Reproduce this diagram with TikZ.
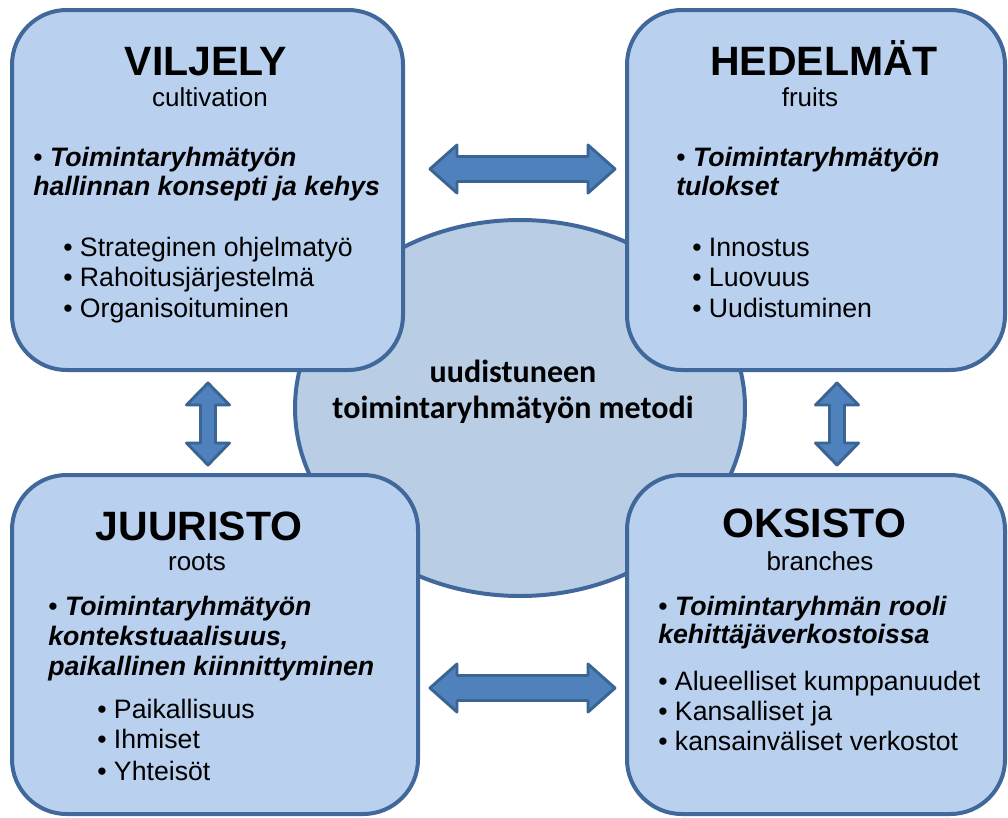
\documentclass[tikz,border=0pt]{standalone}
\usepackage{fontspec}
\setmainfont{Liberation Sans}
\newfontfamily\calfont{Carlito}
\usetikzlibrary{shapes.geometric,fit}
\definecolor{boxfill}{HTML}{B9D0EE}
\definecolor{ellfill}{HTML}{B9CDE5}
\definecolor{edgecol}{HTML}{41689B}
\definecolor{arrfill}{HTML}{4F81BD}
\definecolor{arrdraw}{HTML}{3A6494}
\begin{document}
\begin{tikzpicture}[x=0.75pt,y=-0.75pt,
  box/.style={draw=edgecol, fill=boxfill, line width=3pt, rounded corners=41pt, inner sep=0pt},
  ell/.style={draw=edgecol, fill=ellfill, line width=3pt, ellipse, inner sep=0pt, minimum width=337.5pt, minimum height=282pt},
  barrow/.style={draw=arrdraw, fill=arrfill, line width=2.2pt, line join=round},
  ttl/.style={anchor=base, inner sep=0pt, font=\fontsize{30.75}{36}\selectfont\bfseries},
  subt/.style={anchor=base, inner sep=0pt, font=\fontsize{19.5}{24}\selectfont},
  bi/.style={anchor=base west, inner sep=0pt, font=\fontsize{20}{24}\selectfont\bfseries\itshape},
  li/.style={anchor=base west, inner sep=0pt, font=\fontsize{20}{24}\selectfont},
  ctr/.style={anchor=base, inner sep=0pt, font=\calfont\fontsize{24}{28}\selectfont\bfseries}]
\useasboundingbox (0,0) rectangle (1008,818);
\fill[white] (0,0) rectangle (1008,818);
% central ellipse
\node[ell] (method) at (520,408) {};
% boxes
\node[box, fit={(12,10)(403,370)}] (viljely) {};
\node[box, fit={(627,10)(1005,370)}] (hedelmat) {};
\node[box, fit={(12,475)(418,814)}] (juuristo) {};
\node[box, fit={(627,475)(1005,814)}] (oksisto) {};
% block arrows
\draw[barrow] (430,169) -- (457,145) -- (457,156.5) -- (588,156.5) -- (588,145) -- (615,169) -- (588,193) -- (588,181.5) -- (457,181.5) -- (457,193) -- cycle;
\draw[barrow] (430,688) -- (457,664) -- (457,675.5) -- (588,675.5) -- (588,664) -- (615,688) -- (588,712) -- (588,700.5) -- (457,700.5) -- (457,712) -- cycle;
\draw[barrow] (208,383) -- (229.5,405) -- (215.5,405) -- (215.5,443) -- (229.5,443) -- (208,465) -- (186.5,443) -- (200.5,443) -- (200.5,405) -- (186.5,405) -- cycle;
\draw[barrow] (837,383) -- (858.5,405) -- (844.5,405) -- (844.5,443) -- (858.5,443) -- (837,465) -- (815.5,443) -- (829.5,443) -- (829.5,405) -- (815.5,405) -- cycle;
% centre text
\node[ctr] (m1) at (513,382) {uudistuneen};
\node[ctr] (m2) at (513,418) {toimintaryhmätyön metodi};
% VILJELY
\node[ttl] (t1) at (206,75) {VILJELY};
\node[subt] (s1) at (210,106) {cultivation};
\node[bi] (b1a) at (33,166) {\textup{\mdseries •} Toimintaryhmätyön};
\node[bi] (b1b) at (33,195) {hallinnan konsepti ja kehys};
\node[li] (l1a) at (63,256) {• Strateginen ohjelmatyö};
\node[li] (l1b) at (63,286) {• Rahoitusjärjestelmä};
\node[li] (l1c) at (63,317) {• Organisoituminen};
% HEDELMAT
\node[ttl] (t2) at (824,75) {HEDELMÄT};
\node[subt] (s2) at (810,106) {fruits};
\node[bi] (b2a) at (676,166) {\textup{\mdseries •} Toimintaryhmätyön};
\node[bi] (b2b) at (676,195) {tulokset};
\node[li] (l2a) at (692,256) {• Innostus};
\node[li] (l2b) at (692,286) {• Luovuus};
\node[li] (l2c) at (692,317) {• Uudistuminen};
% JUURISTO
\node[ttl] (t3) at (199,540) {JUURISTO};
\node[subt] (s3) at (197,570) {roots};
\node[bi] (b3a) at (48,615) {\textup{\mdseries •} Toimintaryhmätyön};
\node[bi] (b3b) at (48,645) {kontekstuaalisuus,};
\node[bi] (b3c) at (48,675) {paikallinen kiinnittyminen};
\node[li] (l3a) at (97,718) {• Paikallisuus};
\node[li] (l3b) at (97,748) {• Ihmiset};
\node[li] (l3c) at (97,780) {• Yhteisöt};
% OKSISTO
\node[ttl] (t4) at (814,537) {OKSISTO};
\node[subt] (s4) at (820,570) {branches};
\node[bi] (b4a) at (658,615) {\textup{\mdseries •} Toimintaryhmän rooli};
\node[bi] (b4b) at (658,643) {kehittäjäverkostoissa};
\node[li] (l4a) at (658,690) {• Alueelliset kumppanuudet};
\node[li] (l4b) at (658,720) {• Kansalliset ja};
\node[li] (l4c) at (658,750) {• kansainväliset verkostot};
\end{tikzpicture}
\end{document}
